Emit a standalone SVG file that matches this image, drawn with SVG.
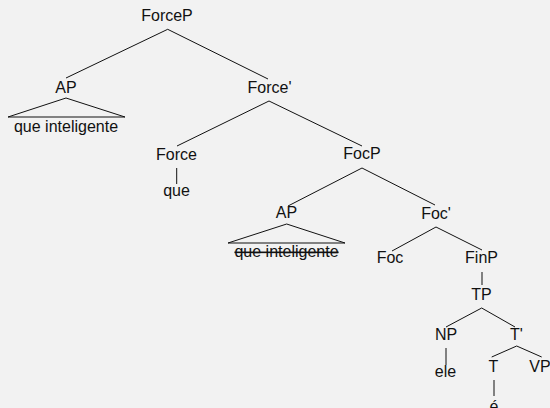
<svg xmlns="http://www.w3.org/2000/svg" width="550" height="408" viewBox="0 0 550 408">
  <style>
    .lbl { font-family: "Liberation Sans", Arial, sans-serif; font-size: 16px; fill: #111; text-anchor: middle; }
    .edge { stroke: #111; stroke-width: 1; fill: none; }
    .struck { text-decoration: line-through; }
  </style>
  <rect width="550" height="408" fill="#f2f2f2"/>

  <!-- branches -->
  <g id="connectors" class="edge">
    <line x1="167.7" y1="29.3" x2="66" y2="78"/>
    <line x1="167.7" y1="29.3" x2="268" y2="79"/>
    <polygon points="66,98 8,117 125,117"/>
    <line x1="269" y1="101" x2="177" y2="146"/>
    <line x1="269" y1="101" x2="362" y2="146"/>
    <line x1="176.7" y1="168" x2="176.7" y2="184"/>
    <line x1="362" y1="168" x2="288" y2="206"/>
    <line x1="362" y1="168" x2="435" y2="205"/>
    <polygon points="286.7,224 228,243 345,243"/>
    <line x1="436" y1="227" x2="392" y2="251"/>
    <line x1="436" y1="227" x2="482" y2="250"/>
    <line x1="482" y1="272" x2="482" y2="285"/>
    <line x1="481.7" y1="308" x2="446" y2="327"/>
    <line x1="481.7" y1="308" x2="515" y2="327"/>
    <line x1="446" y1="348" x2="446" y2="365"/>
    <line x1="516.7" y1="346" x2="491.7" y2="357"/>
    <line x1="516.7" y1="346" x2="541.7" y2="357"/>
    <line x1="494" y1="380" x2="494" y2="396"/>
  </g>

  <g id="ForceP"><text class="lbl" x="167" y="21">ForceP</text></g>
  <g id="AP1">
    <text class="lbl" x="66" y="93">AP</text>
    <text class="lbl" x="66" y="132">que inteligente</text>
  </g>
  <g id="ForceBar"><text class="lbl" x="269.5" y="93">Force'</text></g>
  <g id="Force">
    <text class="lbl" x="176.5" y="160">Force</text>
    <text class="lbl" x="176.5" y="196">que</text>
  </g>
  <g id="FocP"><text class="lbl" x="362" y="159">FocP</text></g>
  <g id="AP2">
    <text class="lbl" x="286.5" y="218">AP</text>
    <text class="lbl struck" x="286.5" y="257">que inteligente</text>
  </g>
  <g id="FocBar"><text class="lbl" x="436" y="219">Foc'</text></g>
  <g id="Foc"><text class="lbl" x="390" y="263">Foc</text></g>
  <g id="FinP"><text class="lbl" x="481.5" y="263">FinP</text></g>
  <g id="TP"><text class="lbl" x="481.5" y="300">TP</text></g>
  <g id="NP">
    <text class="lbl" x="446" y="340">NP</text>
    <text class="lbl" x="445.5" y="377">ele</text>
  </g>
  <g id="TBar"><text class="lbl" x="516.5" y="340">T'</text></g>
  <g id="T">
    <text class="lbl" x="493.5" y="372">T</text>
    <text class="lbl" x="494" y="412">é</text>
  </g>
  <g id="VP"><text class="lbl" x="540" y="372">VP</text></g>
</svg>
